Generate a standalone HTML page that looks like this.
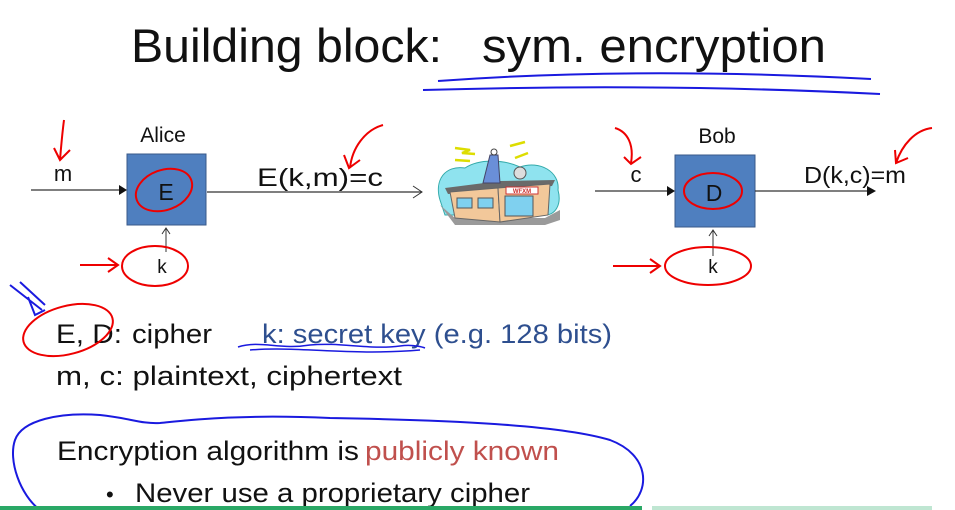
<!DOCTYPE html>
<html><head><meta charset="utf-8"><style>
html,body{margin:0;padding:0;background:#fff;}
svg{display:block;}
text{font-family:"Liberation Sans",sans-serif;}
</style></head><body>
<svg width="955" height="510" viewBox="0 0 955 510" xmlns="http://www.w3.org/2000/svg">
<rect width="955" height="510" fill="#fff"/>
<text x="131" y="62" font-size="47" textLength="311" lengthAdjust="spacingAndGlyphs" fill="#111">Building block:</text>
<text x="482" y="62" font-size="47" textLength="344" lengthAdjust="spacingAndGlyphs" fill="#111">sym. encryption</text>
<path d="M438,81 C560,72 700,70 871,79" stroke="#1a1adf" stroke-width="2" fill="none"/>
<path d="M423,90 C560,86 720,86 880,94" stroke="#1a1adf" stroke-width="2" fill="none"/>

<text x="163" y="142" font-size="21" text-anchor="middle" fill="#111">Alice</text>
<rect x="127" y="154" width="79" height="71" fill="#4f7fbf" stroke="#3a5a8a" stroke-width="1"/>
<text x="166" y="200" font-size="23" text-anchor="middle" fill="#111">E</text>
<ellipse cx="164" cy="190" rx="29" ry="20" transform="rotate(-20 164 190)" fill="none" stroke="#e00" stroke-width="2"/>
<line x1="31" y1="190" x2="120" y2="190" stroke="#333" stroke-width="1.2"/>
<path d="M127,190 L119,185 L119,195 Z" fill="#111"/>
<text x="63" y="181" font-size="22" text-anchor="middle" fill="#111">m</text>
<path d="M64,120 C62,135 61,148 60,160 M54,148 L60,160 L70,150" stroke="#e00" stroke-width="2" fill="none"/>
<line x1="166" y1="252" x2="166" y2="228" stroke="#333" stroke-width="1"/>
<path d="M162,234 L166,228 L170,234" stroke="#333" fill="none"/>
<text x="162" y="273" font-size="19" text-anchor="middle" fill="#111">k</text>
<ellipse cx="155" cy="266" rx="33" ry="20" fill="none" stroke="#e00" stroke-width="2"/>
<path d="M80,265 L118,265 M108,258 L118,265 L108,272" stroke="#e00" stroke-width="2" fill="none"/>

<text x="257" y="186" font-size="25" textLength="126" lengthAdjust="spacingAndGlyphs" fill="#111">E(k,m)=c</text>
<line x1="207" y1="192" x2="422" y2="192" stroke="#333" stroke-width="1.2"/>
<path d="M413,186 L422,192 L413,198" stroke="#333" fill="none"/>
<path d="M383,125 C365,130 352,148 350,168 M344,155 L349,168 L360,160" stroke="#e00" stroke-width="2" fill="none"/>

<path d="M440,200 C434,180 445,165 465,168 C480,158 505,160 520,167 C540,160 560,172 558,190 C562,205 555,215 545,215 L445,215 Z" fill="#8fe3ef" stroke="#3aa" stroke-width="1"/>
<path d="M440,205 L455,218 L545,218 L560,210 L560,220 L545,225 L455,225 Z" fill="#9a9a9a"/>
<path d="M445,188 L500,181 L555,180 L552,186 L498,190 L448,194 Z" fill="#6a6a6a"/>
<path d="M450,192 L498,188 L500,222 L455,218 Z" fill="#f2c89a" stroke="#666"/>
<path d="M498,188 L550,184 L548,215 L500,222 Z" fill="#f2c89a" stroke="#666"/>
<rect x="457" y="198" width="15" height="10" fill="#7fd0ef" stroke="#555"/>
<rect x="478" y="198" width="15" height="10" fill="#7fd0ef" stroke="#555"/>
<rect x="505" y="196" width="28" height="20" fill="#7fd0ef" stroke="#555"/>
<rect x="506" y="187" width="32" height="7" fill="#fff" stroke="#c33"/>
<text x="522" y="193" font-size="6" text-anchor="middle" fill="#c33" font-weight="bold">WFXM</text>
<path d="M483,183 L490,155 L498,155 L500,183 Z" fill="#6a8fd8" stroke="#446"/>
<circle cx="494" cy="152" r="3" fill="none" stroke="#444"/>
<circle cx="520" cy="173" r="6" fill="#ddd" stroke="#555"/>
<path d="M455,148 L470,150 L462,153 L475,154 M455,160 L470,161 M510,146 L525,142 M515,158 L528,153" stroke="#dd0" stroke-width="2.5" fill="none"/>

<text x="717" y="143" font-size="21" text-anchor="middle" fill="#111">Bob</text>
<rect x="675" y="155" width="80" height="72" fill="#4f7fbf" stroke="#3a5a8a" stroke-width="1"/>
<text x="714" y="201" font-size="23" text-anchor="middle" fill="#111">D</text>
<ellipse cx="713" cy="191" rx="29" ry="18" fill="none" stroke="#e00" stroke-width="2"/>
<line x1="595" y1="191" x2="668" y2="191" stroke="#333" stroke-width="1.2"/>
<path d="M675,191 L667,186 L667,196 Z" fill="#111"/>
<text x="636" y="182" font-size="22" text-anchor="middle" fill="#111">c</text>
<path d="M615,128 C628,132 634,145 631,163 M624,157 L631,164 L641,157" stroke="#e00" stroke-width="2" fill="none"/>
<line x1="755" y1="191" x2="868" y2="191" stroke="#333" stroke-width="1.2"/>
<path d="M876,191 L867,186 L867,196 Z" fill="#111"/>
<text x="804" y="183" font-size="23" textLength="102" lengthAdjust="spacingAndGlyphs" fill="#111">D(k,c)=m</text>
<path d="M932,128 C915,130 902,145 896,163 M895,150 L896,163 L908,158" stroke="#e00" stroke-width="2" fill="none"/>
<line x1="713" y1="256" x2="713" y2="230" stroke="#333" stroke-width="1"/>
<path d="M709,236 L713,230 L717,236" stroke="#333" fill="none"/>
<text x="713" y="273" font-size="19" text-anchor="middle" fill="#111">k</text>
<ellipse cx="708" cy="266" rx="43" ry="19" fill="none" stroke="#e00" stroke-width="2"/>
<path d="M613,266 L660,266 M650,259 L660,266 L650,273" stroke="#e00" stroke-width="2" fill="none"/>

<path d="M10,285 L42,310 M20,282 L45,305 M28,297 L35,315 L45,310" stroke="#1a1adf" stroke-width="2" fill="none"/>
<text x="56" y="343" font-size="27" textLength="66" lengthAdjust="spacingAndGlyphs" fill="#111">E, D:</text>
<text x="132" y="343" font-size="27" textLength="80" lengthAdjust="spacingAndGlyphs" fill="#111">cipher</text>
<ellipse cx="68" cy="330" rx="46" ry="24" transform="rotate(-15 68 330)" fill="none" stroke="#e00" stroke-width="2"/>
<text x="262" y="343" font-size="27" textLength="350" lengthAdjust="spacingAndGlyphs" fill="#2e4f8f">k:  secret key (e.g. 128 bits)</text>
<path d="M238,347 C260,340 280,350 310,345 C340,342 370,350 400,346 C415,344 425,348 425,348 M250,350 C300,346 350,356 420,350" stroke="#1a1adf" stroke-width="1.5" fill="none"/>
<text x="56" y="385" font-size="27" textLength="346" lengthAdjust="spacingAndGlyphs" fill="#111">m, c:  plaintext,  ciphertext</text>

<path d="M40,510 C20,495 8,460 15,440 C22,420 60,412 100,415 C130,418 140,424 160,423 C190,420 240,414 330,418 C450,420 560,425 610,440 C650,455 650,490 630,506" stroke="#1a1adf" stroke-width="2" fill="none"/>
<text x="57" y="460" font-size="27" textLength="302" lengthAdjust="spacingAndGlyphs" fill="#111">Encryption algorithm is</text>
<text x="365" y="460" font-size="27" textLength="194" lengthAdjust="spacingAndGlyphs" fill="#c0504d">publicly known</text>
<text x="106" y="502" font-size="22" fill="#111">•</text>
<text x="135" y="502" font-size="27" textLength="395" lengthAdjust="spacingAndGlyphs" fill="#111">Never use a proprietary cipher</text>
<rect x="0" y="506" width="642" height="4" fill="#2aa866"/>
<rect x="652" y="506" width="280" height="4" fill="#bfe6d2"/>
</svg>
</body></html>
